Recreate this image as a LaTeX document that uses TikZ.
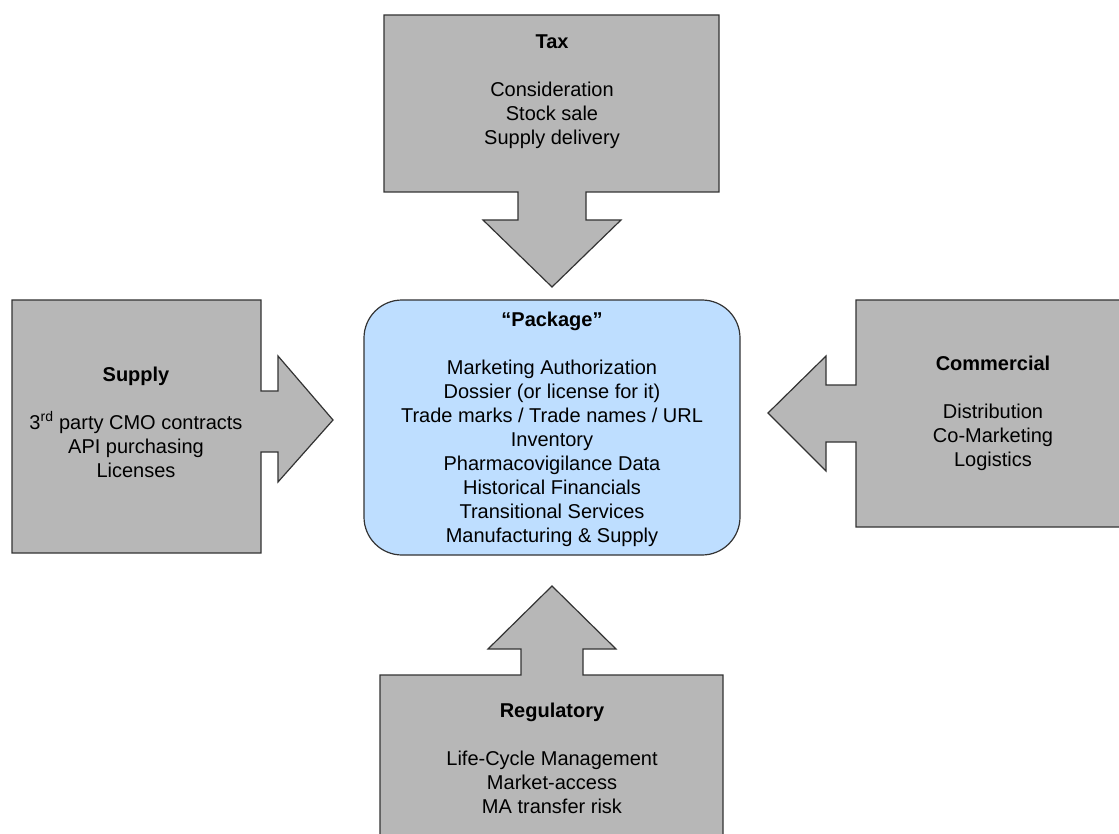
\documentclass[tikz,border=0pt]{standalone}
\usepackage{fontspec}
\setmainfont{Liberation Sans}
\definecolor{boxgray}{RGB}{183,183,183}
\definecolor{packblue}{RGB}{190,222,255}
\begin{document}
\begin{tikzpicture}[x=1pt,y=-1pt,
  callout/.style={fill=boxgray,draw=black!80,line width=1.2pt,line join=miter},
  package/.style={fill=packblue,draw=black!80,line width=1.2pt,rounded corners=38pt},
  txt/.style={align=center,inner sep=0pt,font=\fontsize{20}{24}\selectfont}]
  \useasboundingbox (0,0) rectangle (1119,834);
  \clip (0,0) rectangle (1119,834);
  % Tax (points down)
  \filldraw[callout] (384,15) -- (719,15) -- (719,192) -- (586,192) -- (586,220) -- (621,220)
    -- (552,287) -- (483,220) -- (518,220) -- (518,192) -- (384,192) -- cycle;
  % Supply (points right)
  \filldraw[callout] (12,300) -- (261,300) -- (261,391) -- (278,391) -- (278,356)
    -- (333,420) -- (278,482) -- (278,452) -- (261,452) -- (261,553) -- (12,553) -- cycle;
  % Commercial (points left)
  \filldraw[callout] (1130,300) -- (856,300) -- (856,385) -- (826,385) -- (826,356)
    -- (768,413) -- (826,471) -- (826,442) -- (856,442) -- (856,527) -- (1130,527) -- cycle;
  % Regulatory (points up)
  \filldraw[callout] (380,860) -- (380,675) -- (521,675) -- (521,649) -- (488,649)
    -- (552,586) -- (616,649) -- (583,649) -- (583,675) -- (723,675) -- (723,860) -- cycle;
  % the package in the middle
  \filldraw[package] (364,300) rectangle (740,555);
  \node[txt] (tax) at (552,92) {\textbf{Tax}\\[24pt]Consideration\\Stock sale\\Supply delivery};
  \node[txt] (supply) at (136,422) {\textbf{Supply}\\[24pt]3\textsuperscript{rd} party CMO contracts\\API purchasing\\Licenses};
  \node[txt] (commercial) at (993,413.5) {\textbf{Commercial}\\[24pt]Distribution\\Co-Marketing\\Logistics};
  \node[txt] (regulatory) at (552,758) {\textbf{Regulatory}\\[24pt]Life-Cycle Management\\Market-access\\MA transfer risk};
  \node[txt] (package) at (552,429.5) {\textbf{“Package”}\\[24pt]Marketing Authorization\\Dossier (or license for it)\\Trade marks / Trade names / URL\\Inventory\\Pharmacovigilance Data\\Historical Financials\\Transitional Services\\Manufacturing \& Supply};
\end{tikzpicture}
\end{document}
